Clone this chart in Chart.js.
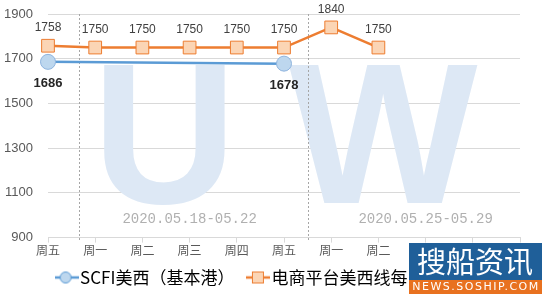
<!DOCTYPE html>
<html>
<head>
<meta charset="utf-8">
<script src="https://cdn.jsdelivr.net/npm/chart.js@4"></script>
<style>
  html, body { margin: 0; padding: 0; background: #fff; }
  #wrap { width: 544px; height: 296px; }
</style>
</head>
<body>
<div id="wrap"><canvas id="lineChart"></canvas></div>
<script>
// chart data
var days = ['周五', '周一', '周二', '周三', '周四', '周五', '周一', '周二', '', '', ''];
var scfiValues = [1686, null, null, null, null, 1678, null, null, null, null, null];
var ecomValues = [1758, 1750, 1750, 1750, 1750, 1750, 1840, 1750, null, null, null];
var seriesNames = ['SCFI美西（基本港）', '电商平台美西线每日运价'];
var yTicks = [900, 1100, 1300, 1500, 1700, 1900];
var weekLabels = ['2020.05.18-05.22', '2020.05.25-05.29'];

var blue = '#5b9bd5';
var orange = '#ed7d31';
var FONT = '"Noto Sans CJK SC", "Noto Sans", sans-serif';

// little line + marker pictures for the legend
function legendIcon(kind) {
  var c = document.createElement('canvas');
  c.width = 24; c.height = 14;
  var g = c.getContext('2d');
  g.lineWidth = 2.5;
  g.strokeStyle = kind == 'circle' ? blue : orange;
  g.beginPath(); g.moveTo(0, 7); g.lineTo(24, 7); g.stroke();
  g.lineWidth = 1;
  if (kind == 'circle') {
    g.fillStyle = '#bdd7ee';
    g.beginPath(); g.arc(11, 7, 5.5, 0, Math.PI * 2); g.fill(); g.stroke();
  } else {
    g.fillStyle = '#fbd5b5';
    g.fillRect(6.5, 1.5, 11, 11); g.strokeRect(6.5, 1.5, 11, 11);
  }
  return c;
}
var icons = [legendIcon('circle'), legendIcon('rect')];

// background watermark, dividers and week captions
var backdrop = {
  id: 'backdrop',
  beforeDatasetsDraw: function (chart) {
    var ctx = chart.ctx, x = chart.scales.x, y = chart.scales.y, a = chart.chartArea;
    ctx.save();
    ctx.fillStyle = '#dde8f5';
    ctx.font = 'bold 200px "Liberation Sans", Arial, sans-serif';
    ctx.textAlign = 'center';
    ctx.textBaseline = 'alphabetic';
    ctx.fillText('U', x.getPixelForValue(2.47), y.getPixelForValue(1055));
    ctx.fillText('W', x.getPixelForValue(7.1), y.getPixelForValue(1055));

    ctx.strokeStyle = '#a6a6a6';
    ctx.lineWidth = 1;
    ctx.setLineDash([2, 2]);
    [0.65, 5.5].forEach(function (v) {
      var px = Math.round(x.getPixelForValue(v)) + 0.5;
      ctx.beginPath(); ctx.moveTo(px, a.top); ctx.lineTo(px, a.bottom + 3); ctx.stroke();
    });
    ctx.setLineDash([]);

    ctx.fillStyle = '#b0b0b0';
    ctx.font = '14px "Liberation Mono", "DejaVu Sans Mono", monospace';
    ctx.textBaseline = 'middle';
    ctx.fillText(weekLabels[0], x.getPixelForValue(3), a.bottom - 18);
    ctx.fillText(weekLabels[1], x.getPixelForValue(8), a.bottom - 18);
    ctx.restore();
  }
};

// value labels above / below the points
var valueLabels = {
  id: 'valueLabels',
  afterDatasetsDraw: function (chart) {
    var ctx = chart.ctx;
    ctx.save();
    ctx.textAlign = 'center';
    ctx.textBaseline = 'middle';
    chart.data.datasets.forEach(function (ds, di) {
      var meta = chart.getDatasetMeta(di);
      meta.data.forEach(function (pt, i) {
        var v = ds.data[i];
        if (v == null) return;
        if (di == 0) {
          ctx.font = 'bold 13px "Liberation Sans", Arial, sans-serif';
          ctx.fillStyle = '#262626';
          ctx.fillText(v, pt.x, pt.y + 22);
        } else {
          ctx.font = '12px "Liberation Sans", Arial, sans-serif';
          ctx.fillStyle = '#404040';
          ctx.fillText(v, pt.x, pt.y - 18);
        }
      });
    });
    ctx.restore();
  }
};

// site logo in the corner
var logo = {
  id: 'logo',
  afterDraw: function (chart) {
    var ctx = chart.ctx;
    ctx.save();
    ctx.fillStyle = '#1f5f99';
    ctx.fillRect(409, 243, 133, 38);
    ctx.fillStyle = '#e8711f';
    ctx.fillRect(409, 280, 133, 14);
    ctx.fillStyle = '#fff';
    ctx.textAlign = 'center';
    ctx.textBaseline = 'middle';
    ctx.font = '29px "Noto Sans CJK SC", sans-serif';
    ctx.fillText('搜船资讯', 475, 262);
    ctx.font = '11px "DejaVu Sans", sans-serif';
    ctx.letterSpacing = '1.5px';
    ctx.fillText('NEWS.SOSHIP.COM', 476, 287.5);
    ctx.restore();
  }
};

var data = {
  labels: days,
  datasets: [
    {
      label: seriesNames[0] + '\u2002',
      data: scfiValues,
      spanGaps: true,
      borderColor: blue,
      borderWidth: 2.5,
      backgroundColor: '#bdd7ee',
      pointBackgroundColor: '#bdd7ee',
      pointBorderColor: '#8fb4de',
      pointBorderWidth: 1,
      pointRadius: 7.5,
      pointStyle: 'circle'
    },
    {
      label: seriesNames[1],
      data: ecomValues,
      borderColor: orange,
      borderWidth: 2.5,
      backgroundColor: '#fbd5b5',
      pointBackgroundColor: '#fbd5b5',
      pointBorderColor: orange,
      pointBorderWidth: 1,
      pointRadius: 9,
      pointStyle: 'rect'
    }
  ]
};

var config = {
  type: 'line',
  data: data,
  options: {
    responsive: true,
    maintainAspectRatio: false,
    animation: false,
    layout: { padding: { left: 0, right: 24, top: 14, bottom: 0 } },
    plugins: {
      tooltip: { enabled: false },
      legend: {
        position: 'bottom',
        labels: {
          usePointStyle: true,
          pointStyleWidth: 10,
          padding: 10,
          color: '#000',
          font: { family: FONT, size: 17 },
          generateLabels: function (chart) {
            var items = Chart.defaults.plugins.legend.labels.generateLabels(chart);
            items.forEach(function (it, i) { it.pointStyle = icons[i]; });
            return items;
          }
        }
      }
    },
    scales: {
      x: {
        offset: false,
        grid: { display: true, drawOnChartArea: false, drawTicks: true, tickLength: 5, color: '#d9d9d9' },
        border: { color: '#d9d9d9' },
        ticks: { autoSkip: false, maxRotation: 0, color: '#595959', font: { family: FONT, size: 12 }, padding: 1 }
      },
      y: {
        min: 900,
        max: 1900,
        afterBuildTicks: function (axis) {
          axis.ticks = yTicks.map(function (v) { return { value: v }; });
        },
        afterFit: function (axis) {
          axis.width = 48;
          axis.paddingTop = 7;
          axis.paddingBottom = 7;
        },
        grid: { color: '#d9d9d9', drawTicks: false },
        border: { display: false },
        ticks: {
          color: '#595959',
          font: { family: '"Liberation Sans", Arial, sans-serif', size: 13 },
          padding: 15,
          callback: function (v) { return String(v); }
        }
      }
    }
  },
  plugins: [backdrop, valueLabels, logo]
};

var chart = new Chart(document.getElementById('lineChart'), config);
</script>
</body>
</html>
